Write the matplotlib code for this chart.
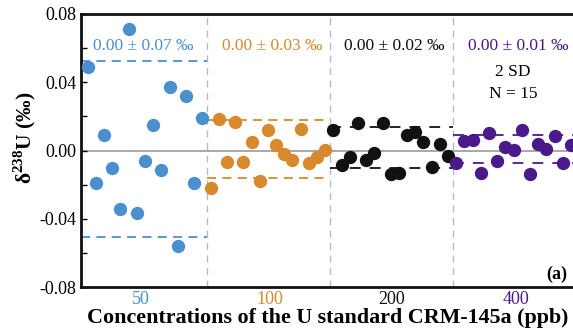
import matplotlib
matplotlib.use("Agg")
import matplotlib.pyplot as plt
import numpy as np

plt.rcParams['font.family'] = ['Liberation Serif', 'DejaVu Serif']
plt.rcParams['mathtext.fontset'] = 'custom'
plt.rcParams['mathtext.rm'] = 'Liberation Serif'
plt.rcParams['mathtext.bf'] = 'Liberation Serif:bold'

# ---- data ----
groups = ["50", "100", "200", "400"]
colors = ["#4A90CE", "#D8892E", "#111111", "#4A1A8A"]
labels = ["0.00 ± 0.07 ‰", "0.00 ± 0.03 ‰", "0.00 ± 0.02 ‰", "0.00 ± 0.01 ‰"]

vals_50 = [0.049, -0.0188, 0.009, -0.010, -0.034, 0.0715, -0.0367, -0.0059,
           0.0148, -0.0114, 0.0371, -0.0557, 0.0322, -0.0193, 0.0193]
vals_100 = [-0.0219, 0.0183, -0.0070, 0.0168, -0.0067, 0.0047, -0.0178, 0.0119,
            0.0033, -0.0018, -0.0057, 0.0125, -0.0074, -0.0041, 0.0004]
vals_200 = [0.0121, -0.0086, -0.0037, 0.0164, -0.0057, -0.0016, 0.0164, -0.0139,
            -0.0129, 0.0090, 0.0109, 0.0050, -0.0094, 0.0041, -0.0035]
vals_400 = [-0.0074, 0.0056, 0.0060, -0.0129, 0.0101, -0.0061, 0.0018, 0.0002,
            0.0119, -0.0139, 0.0037, 0.0008, 0.0086, -0.0074, 0.0033]
series = [vals_50, vals_100, vals_200, vals_400]

sd_upper = [0.0525, 0.0179, 0.0135, 0.0090]
sd_lower = [-0.0506, -0.0164, -0.0105, -0.0074]

# ---- figure ----
fig = plt.figure(figsize=(5.73, 3.31), dpi=100)
ax = fig.add_axes([81/573, 44/331, 494/573, 273/331])

xmin, xmax = 0.18, 60.5
dividers = [15.6, 30.6, 45.6]
edges = [xmin] + dividers + [xmax]

ax.axhline(0, color="#999999", lw=1.2, zorder=1)
for d in dividers:
    ax.axvline(d, color="#BBBBBB", lw=1.0, ls=(0, (5, 4)), zorder=1)

for i, vals in enumerate(series):
    x = np.arange(1, 16) + 15 * i
    ax.scatter(x, vals, s=92, color=colors[i], zorder=3, linewidths=0)
    dash = (0, (5, 3.5)) if i < 2 else (0, (6, 5))
    ax.hlines([sd_upper[i], sd_lower[i]], edges[i], edges[i + 1],
              colors=colors[i], lw=1.3, linestyles=[dash], zorder=2)

centers = [7.5, 23.2, 38.1, 53.3]
for i, c in enumerate(centers):
    ax.text(c + 0.3, 0.061, labels[i], color=colors[i], ha="center",
            va="center", fontsize=12.5)
ax.text(52.9, 0.0458, "2 SD", ha="center", va="center", fontsize=12.5)
ax.text(52.9, 0.0329, "N = 15", ha="center", va="center", fontsize=12.5)
ax.text(57.0, -0.0725, "(a)", ha="left", va="center", fontsize=13,
        fontweight="bold")

ax.set_xlim(xmin, xmax)
ax.set_ylim(-0.08, 0.08)
ax.set_yticks([-0.08, -0.04, 0.0, 0.04, 0.08])
ax.set_yticklabels(["-0.08", "-0.04", "0.00", "0.04", "0.08"])
ax.set_yticks([-0.06, -0.02, 0.02, 0.06], minor=True)
ax.tick_params(axis="y", which="both", direction="in", labelsize=13,
               length=4, width=1)
ax.set_xticks(centers)
ax.set_xticklabels(groups)
ax.tick_params(axis="x", length=0, labelsize=13, pad=3)
for lab, c in zip(ax.get_xticklabels(), colors):
    lab.set_color(c)

for sp in ax.spines.values():
    sp.set_linewidth(2)
    sp.set_color("#111111")

ax.set_ylabel(r"δ$^{\mathbf{238}}$U (‰)", fontsize=15.5, fontweight="bold")
ax.yaxis.set_label_coords(-0.088, 0.545)
ax.set_xlabel("Concentrations of the U standard CRM-145a (ppb)", fontsize=15.8,
              fontweight="bold", labelpad=0)

fig.savefig("out.png", dpi=100)
